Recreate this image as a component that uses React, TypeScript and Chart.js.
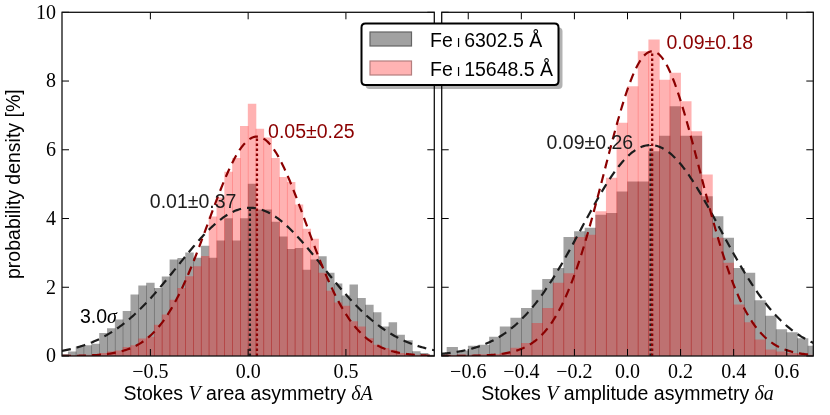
import React, { useEffect, useRef } from "react";
import { Chart, registerables } from "chart.js";

Chart.register(...registerables);

// ---------------- data ----------------
const BIN_WIDTH = 0.04;

// Stokes V area asymmetry histogram (bins start at -0.96, width 0.04)
const areaBinStart = -0.96;
const areaGray = [
  0.05, 0.12, 0.27, 0.3, 0.35, 0.66, 0.8, 1.05, 1.3, 1.78, 2.04, 2.12, 1.97, 2.3, 2.8, 2.84,
  3.0, 2.85, 3.2, 2.85, 3.35, 4.0, 3.35, 4.0, 5.0, 4.25, 4.25, 3.9, 3.47, 3.1, 3.13, 2.5,
  2.8, 2.89, 2.41, 2.1, 1.75, 2.07, 1.68, 1.48, 1.26, 0.85, 0.97, 0.61, 0.45, 0.13, 0.08, 0.03,
];
const areaPink = [
  0.0, 0.01, 0.02, 0.03, 0.03, 0.08, 0.12, 0.15, 0.25, 0.3, 0.5, 0.55, 0.9, 1.2, 1.63, 1.97,
  2.31, 2.6, 2.9, 4.05, 4.6, 5.35, 5.75, 6.68, 7.33, 6.6, 6.35, 5.75, 5.2, 5.05, 4.4, 3.69,
  3.4, 2.41, 1.89, 1.55, 1.45, 1.0, 0.85, 0.51, 0.32, 0.22, 0.17, 0.08, 0.05, 0.03, 0.02, 0.01,
];

// Stokes V amplitude asymmetry histogram (bins start at -0.72, width 0.04)
const ampBinStart = -0.72;
const ampGray = [
  0.05, 0.25, 0.15, 0.29, 0.32, 0.55, 0.85, 1.1, 1.39, 1.92, 2.23, 2.55, 3.45, 3.62, 3.72, 4.1,
  4.15, 4.78, 5.07, 5.07, 5.95, 6.4, 7.26, 6.4, 6.4, 4.64, 4.06, 3.43, 2.55, 2.41, 1.61, 1.16,
  0.77, 0.68, 0.51, 0.29,
];
const ampPink = [
  0.01, 0.02, 0.03, 0.03, 0.04, 0.05, 0.08, 0.23, 0.37, 0.95, 1.39, 2.12, 2.4, 3.45, 3.52, 4.2,
  5.18, 6.78, 7.84, 8.86, 9.2, 8.03, 8.23, 7.4, 6.53, 5.27, 3.43, 2.7, 1.49, 0.97, 0.47, 0.18,
  0.12, 0.08, 0.06, 0.03,
];

// Gaussian fits [Fe I 6302.5, Fe I 15648.5]
const areaFitMean = [0.009, 0.045];
const areaFitSigma = [0.37, 0.25];
const ampFitMean = [0.087, 0.093];
const ampFitSigma = [0.26, 0.18];
const areaFitText = ["0.01\u00b10.37", "0.05\u00b10.25"];
const ampFitText = ["0.09\u00b10.26", "0.09\u00b10.18"];
const sigmaText = "3.0";

const areaTicksX = [-0.5, 0.0, 0.5];
const ampTicksX = [-0.6, -0.4, -0.2, 0.0, 0.2, 0.4, 0.6];
const ticksY = [0, 2, 4, 6, 8, 10];

const legendWavelengths = ["6302.5\u00a0\u00c5", "15648.5\u00a0\u00c5"];

// ---------------- styles ----------------
const SANS = '"Liberation Sans", Arial, Helvetica, sans-serif';
const SERIF = '"Liberation Serif", "Times New Roman", serif';
const SANS_FONT = `19.5px ${SANS}`;
const ITALIC_SERIF = `italic 20px ${SERIF}`;
const GRAY_FILL = "rgba(0,0,0,0.37)";
const PINK_FILL = "rgba(255,0,0,0.3)";
const DARK = "#1c1c1c";
const DARKRED = "#8b0000";
const TICK = 7;

type Part = { text: string; font: string };

function binPoints(start: number, values: number[]) {
  return values.map((v, i) => ({ x: start + (i + 0.5) * BIN_WIDTH, y: v }));
}
function gaussValue(x: number, mu: number, sigma: number) {
  return (100 * BIN_WIDTH * Math.exp(-0.5 * ((x - mu) / sigma) ** 2)) / (sigma * Math.sqrt(2 * Math.PI));
}
function gaussPoints(mu: number, sigma: number, xmin: number, xmax: number) {
  const n = 300;
  const pts: { x: number; y: number }[] = [];
  for (let i = 0; i <= n; i++) {
    const x = xmin + ((xmax - xmin) * i) / n;
    pts.push({ x, y: gaussValue(x, mu, sigma) });
  }
  return pts;
}
function fmtTick(v: number) {
  const s = Math.abs(v).toFixed(1);
  return v < -1e-9 ? "\u2212" + s : s;
}
function drawParts(ctx: CanvasRenderingContext2D, parts: Part[], x: number, baseline: number, center: boolean) {
  const widths = parts.map((p) => {
    ctx.font = p.font;
    return ctx.measureText(p.text).width;
  });
  const total = widths.reduce((a, b) => a + b, 0);
  let cx = center ? x - total / 2 : x;
  ctx.textAlign = "left";
  ctx.textBaseline = "alphabetic";
  parts.forEach((p, i) => {
    ctx.font = p.font;
    ctx.fillText(p.text, cx, baseline);
    cx += widths[i];
  });
}

type PanelCfg = {
  xmin: number;
  xmax: number;
  binStart: number;
  gray: number[];
  pink: number[];
  means: number[];
  sigmas: number[];
  fitText: string[];
  fitPos: { x: number; y: number }[];
  xTicks: number[];
  stepSize: number;
  showY: boolean;
  xlabel: Part[];
  padding: { left: number; right: number; top: number; bottom: number };
  sigmaLabel?: { x: number; y: number };
  legend?: boolean;
};

function decorPlugin(cfg: PanelCfg) {
  return {
    id: "decor",
    afterDatasetsDraw(chart: any) {
      const { ctx, chartArea: a } = chart;
      const xs = chart.scales.x;
      const ys = chart.scales.y;
      ctx.save();
      // inward ticks on all four sides
      ctx.strokeStyle = "#000";
      ctx.lineWidth = 1;
      ctx.beginPath();
      cfg.xTicks.forEach((t) => {
        const px = xs.getPixelForValue(t);
        ctx.moveTo(px, a.bottom);
        ctx.lineTo(px, a.bottom - TICK);
        ctx.moveTo(px, a.top);
        ctx.lineTo(px, a.top + TICK);
      });
      ticksY.forEach((t) => {
        const py = ys.getPixelForValue(t);
        ctx.moveTo(a.left, py);
        ctx.lineTo(a.left + TICK, py);
        ctx.moveTo(a.right, py);
        ctx.lineTo(a.right - TICK, py);
      });
      ctx.stroke();
      // frame
      ctx.lineWidth = 1.3;
      ctx.strokeStyle = "#111";
      ctx.strokeRect(a.left, a.top, a.right - a.left, a.bottom - a.top);

      // tick labels
      ctx.fillStyle = "#000";
      ctx.font = `20px ${SERIF}`;
      ctx.textAlign = "center";
      ctx.textBaseline = "alphabetic";
      cfg.xTicks.forEach((t) => ctx.fillText(fmtTick(t), xs.getPixelForValue(t), a.bottom + 22));
      if (cfg.showY) {
        ctx.textAlign = "right";
        ctx.textBaseline = "middle";
        ticksY.forEach((t) => ctx.fillText(String(t), a.left - 6, ys.getPixelForValue(t) + 1));
        ctx.save();
        ctx.translate(20, (a.top + a.bottom) / 2);
        ctx.rotate(-Math.PI / 2);
        ctx.font = SANS_FONT;
        ctx.textAlign = "center";
        ctx.textBaseline = "alphabetic";
        ctx.fillText("probability density [%]", 0, 0);
        ctx.restore();
      }
      // x label
      ctx.fillStyle = "#000";
      drawParts(ctx, cfg.xlabel, (a.left + a.right) / 2, a.bottom + 44, true);

      // fit annotations
      const colors = [DARK, DARKRED];
      cfg.fitText.forEach((txt, i) => {
        ctx.fillStyle = colors[i];
        ctx.font = SANS_FONT;
        ctx.textAlign = "left";
        ctx.textBaseline = "alphabetic";
        ctx.fillText(txt, xs.getPixelForValue(cfg.fitPos[i].x), ys.getPixelForValue(cfg.fitPos[i].y));
      });
      if (cfg.sigmaLabel) {
        ctx.fillStyle = "#000";
        drawParts(
          ctx,
          [
            { text: sigmaText, font: SANS_FONT },
            { text: "\u03c3", font: ITALIC_SERIF },
          ],
          xs.getPixelForValue(cfg.sigmaLabel.x),
          ys.getPixelForValue(cfg.sigmaLabel.y),
          false
        );
      }
      ctx.restore();
    },
    afterDraw(chart: any) {
      if (!cfg.legend) return;
      const ctx: CanvasRenderingContext2D = chart.ctx;
      ctx.save();
      const bx = 361.5, by = 23.5, bw = 197, bh = 61.5, r = 4;
      const rr = (x: number, y: number) => {
        ctx.beginPath();
        ctx.moveTo(x + r, y);
        ctx.lineTo(x + bw - r, y);
        ctx.quadraticCurveTo(x + bw, y, x + bw, y + r);
        ctx.lineTo(x + bw, y + bh - r);
        ctx.quadraticCurveTo(x + bw, y + bh, x + bw - r, y + bh);
        ctx.lineTo(x + r, y + bh);
        ctx.quadraticCurveTo(x, y + bh, x, y + bh - r);
        ctx.lineTo(x, y + r);
        ctx.quadraticCurveTo(x, y, x + r, y);
        ctx.closePath();
      };
      rr(bx + 4, by + 4);
      ctx.fillStyle = "rgba(0,0,0,0.3)";
      ctx.fill();
      rr(bx, by);
      ctx.fillStyle = "#fff";
      ctx.fill();
      ctx.lineWidth = 2;
      ctx.strokeStyle = "#000";
      ctx.stroke();

      const fills = ["rgb(161,161,161)", "rgb(255,179,179)"];
      const edges = ["rgb(100,100,100)", "rgb(180,126,126)"];
      legendWavelengths.forEach((w, i) => {
        const py = 32 + i * 29;
        ctx.fillStyle = fills[i];
        ctx.fillRect(370, py, 41.5, 14);
        ctx.strokeStyle = edges[i];
        ctx.lineWidth = 1.2;
        ctx.strokeRect(370, py, 41.5, 14);
        ctx.fillStyle = "#000";
        drawParts(
          ctx,
          [
            { text: "Fe", font: SANS_FONT },
            { text: "\u2009", font: SANS_FONT },
            { text: "I", font: `13px ${SANS}` },
            { text: "\u2009", font: SANS_FONT },
            { text: w, font: SANS_FONT },
          ],
          430,
          py + 14.5,
          false
        );
      });
      ctx.restore();
    },
  };
}

function buildChart(canvas: HTMLCanvasElement, cfg: PanelCfg) {
  const datasets: any[] = [
    {
      type: "bar",
      data: binPoints(cfg.binStart, cfg.gray),
      backgroundColor: GRAY_FILL,
      borderWidth: 0,
      grouped: false,
      barPercentage: 1,
      categoryPercentage: 1,
      order: 10,
    },
    {
      type: "bar",
      data: binPoints(cfg.binStart, cfg.pink),
      backgroundColor: PINK_FILL,
      borderWidth: 0,
      grouped: false,
      barPercentage: 1,
      categoryPercentage: 1,
      order: 9,
    },
  ];
  const lineColors = [DARK, DARKRED];
  cfg.means.forEach((mu, i) => {
    datasets.push({
      type: "line",
      data: gaussPoints(mu, cfg.sigmas[i], cfg.xmin, cfg.xmax),
      borderColor: lineColors[i],
      borderWidth: 2.2,
      borderDash: [9, 6],
      pointRadius: 0,
      tension: 0,
      fill: false,
      order: 4 - i,
    });
  });
  cfg.means.forEach((mu, i) => {
    datasets.push({
      type: "line",
      data: [
        { x: mu, y: 0 },
        { x: mu, y: gaussValue(mu, mu, cfg.sigmas[i]) },
      ],
      borderColor: lineColors[i],
      borderWidth: 2.3,
      borderDash: [2.5, 2.5],
      pointRadius: 0,
      fill: false,
      order: 2 - i,
    });
  });

  return new Chart(canvas, {
    type: "bar",
    data: { datasets },
    options: {
      responsive: false,
      animation: false,
      devicePixelRatio: 1,
      layout: { padding: cfg.padding },
      plugins: { legend: { display: false }, tooltip: { enabled: false }, title: { display: false } },
      events: [],
      scales: {
        x: {
          type: "linear",
          min: cfg.xmin,
          max: cfg.xmax,
          offset: false,
          display: false,
          ticks: { stepSize: cfg.stepSize },
        },
        y: { type: "linear", min: 0, max: 10, display: false },
      },
    } as any,
    plugins: [decorPlugin(cfg) as any],
  });
}

const leftCfg: PanelCfg = {
  xmin: -0.952,
  xmax: 0.952,
  binStart: areaBinStart,
  gray: areaGray,
  pink: areaPink,
  means: areaFitMean,
  sigmas: areaFitSigma,
  fitText: areaFitText,
  fitPos: [
    { x: -0.503, y: 4.3 },
    { x: 0.102, y: 6.34 },
  ],
  xTicks: areaTicksX,
  stepSize: 0.5,
  showY: true,
  xlabel: [
    { text: "Stokes ", font: SANS_FONT },
    { text: "V", font: ITALIC_SERIF },
    { text: " area asymmetry ", font: SANS_FONT },
    { text: "\u03b4A", font: ITALIC_SERIF },
  ],
  padding: { left: 62, right: 830 - 434.3, top: 12.3, bottom: 415 - 356 },
  sigmaLabel: { x: -0.86, y: 0.96 },
};

const rightCfg: PanelCfg = {
  xmin: -0.7,
  xmax: 0.7,
  binStart: ampBinStart,
  gray: ampGray,
  pink: ampPink,
  means: ampFitMean,
  sigmas: ampFitSigma,
  fitText: ampFitText,
  fitPos: [
    { x: -0.305, y: 6.03 },
    { x: 0.147, y: 8.93 },
  ],
  xTicks: ampTicksX,
  stepSize: 0.2,
  showY: false,
  xlabel: [
    { text: "Stokes ", font: SANS_FONT },
    { text: "V", font: ITALIC_SERIF },
    { text: " amplitude asymmetry ", font: SANS_FONT },
    { text: "\u03b4a", font: ITALIC_SERIF },
  ],
  padding: { left: 441.7, right: 830 - 813.3, top: 12.3, bottom: 415 - 356 },
  legend: true,
};

export default function App() {
  const leftRef = useRef<HTMLCanvasElement>(null);
  const rightRef = useRef<HTMLCanvasElement>(null);

  useEffect(() => {
    const c1 = buildChart(leftRef.current as HTMLCanvasElement, leftCfg);
    const c2 = buildChart(rightRef.current as HTMLCanvasElement, rightCfg);
    return () => {
      c1.destroy();
      c2.destroy();
    };
  }, []);

  const canvasStyle: React.CSSProperties = { position: "absolute", left: 0, top: 0, width: 830, height: 415 };
  return (
    <div style={{ position: "absolute", left: 0, top: 0, width: 830, height: 415, background: "#fff", overflow: "hidden" }}>
      <canvas ref={leftRef} width={830} height={415} style={canvasStyle} />
      <canvas ref={rightRef} width={830} height={415} style={canvasStyle} />
    </div>
  );
}
